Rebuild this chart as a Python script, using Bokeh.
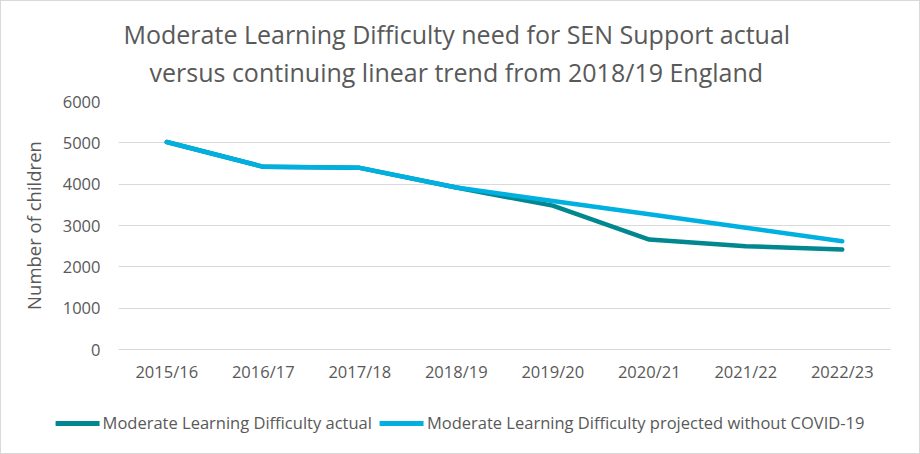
from bokeh.plotting import figure
from bokeh.models import FactorRange, Range1d, Legend, LegendItem, Title
from bokeh.layouts import column, row
from bokeh.embed import file_html
from bokeh.resources import INLINE

years = ["2015/16", "2016/17", "2017/18", "2018/19", "2019/20", "2020/21", "2021/22", "2022/23"]
actual = [5020, 4420, 4395, 3920, 3480, 2660, 2500, 2420]
projected = [5020, 4420, 4395, 3920, 3595, 3270, 2945, 2620]
y_ticks = [0, 1000, 2000, 3000, 4000, 5000, 6000]
title_line1 = "Moderate Learning Difficulty need for SEN Support actual"
title_line2 = "versus continuing linear trend from 2018/19 England"
series_names = ["Moderate Learning Difficulty actual",
                "Moderate Learning Difficulty projected without COVID-19"]

FONT = "Open Sans"
GREY = "#595959"
C_ACTUAL = "#00878f"
C_PROJ = "#00b0e0"

p = figure(width=918, height=400, x_range=FactorRange(*years), y_range=Range1d(0, 6000),
           output_backend="svg", toolbar_location=None,
           min_border_left=117, min_border_right=29, min_border_top=100, min_border_bottom=52)
p.outline_line_color = None

r1 = p.line(years, actual, line_color=C_ACTUAL, line_width=4.5, line_cap="round", line_join="round")
r2 = p.line(years, projected, line_color=C_PROJ, line_width=4.5, line_cap="round", line_join="round")

p.title = Title(text=title_line1, align="left", offset=5, text_font=FONT, text_font_size="25px",
                text_font_style="normal", text_color=GREY, standoff=-22)
p.add_layout(Title(text=title_line2, align="left", offset=31, text_font=FONT, text_font_size="25px",
                   text_font_style="normal", text_color=GREY, standoff=26), "above")

p.xgrid.grid_line_color = None
p.ygrid.grid_line_color = "#d9d9d9"
p.ygrid.grid_line_width = 1
p.yaxis.ticker = y_ticks
p.yaxis.axis_line_color = None
p.yaxis.major_tick_line_color = None
p.yaxis.minor_tick_line_color = None
p.xaxis.axis_line_color = "#d9d9d9"
p.xaxis.major_tick_line_color = None
p.xaxis.minor_tick_line_color = None
for ax in (p.xaxis[0], p.yaxis[0]):
    ax.major_label_text_font = FONT
    ax.major_label_text_font_size = "16.5px"
    ax.major_label_text_color = GREY
p.xaxis.major_label_standoff = 4
p.yaxis.major_label_standoff = 12
p.yaxis.axis_label = "Number of children"
p.yaxis.axis_label_text_font = FONT
p.yaxis.axis_label_text_font_size = "18.5px"
p.yaxis.axis_label_text_font_style = "normal"
p.yaxis.axis_label_text_color = GREY
p.yaxis.axis_label_standoff = 14

# legend strip (separate figure so it can sit below the axis)
lg = figure(width=918, height=52, x_range=FactorRange(*years), y_range=Range1d(0, 6000),
            output_backend="svg", toolbar_location=None, x_axis_type=None, y_axis_type=None,
            min_border=0)
lg.outline_line_color = None
lg.grid.grid_line_color = None
g1 = lg.line(years, actual, line_color=C_ACTUAL, line_width=5, line_cap="round", visible=False)
g2 = lg.line(years, projected, line_color=C_PROJ, line_width=5, line_cap="round", visible=False)
legend = Legend(items=[LegendItem(label=series_names[0], renderers=[g1]),
                       LegendItem(label=series_names[1], renderers=[g2])],
                orientation="horizontal", location="top_center",
                label_text_font=FONT, label_text_font_size="16.5px", label_text_color=GREY,
                border_line_color=None, background_fill_alpha=0, glyph_width=44, spacing=8,
                label_standoff=3, margin=10, padding=0)
lg.add_layout(legend, "center")

layout = column(p, row(lg, spacing=0), spacing=0, styles={"border": "1px solid #d9d9d9"})
open("out.html", "w").write(file_html(layout, INLINE))
